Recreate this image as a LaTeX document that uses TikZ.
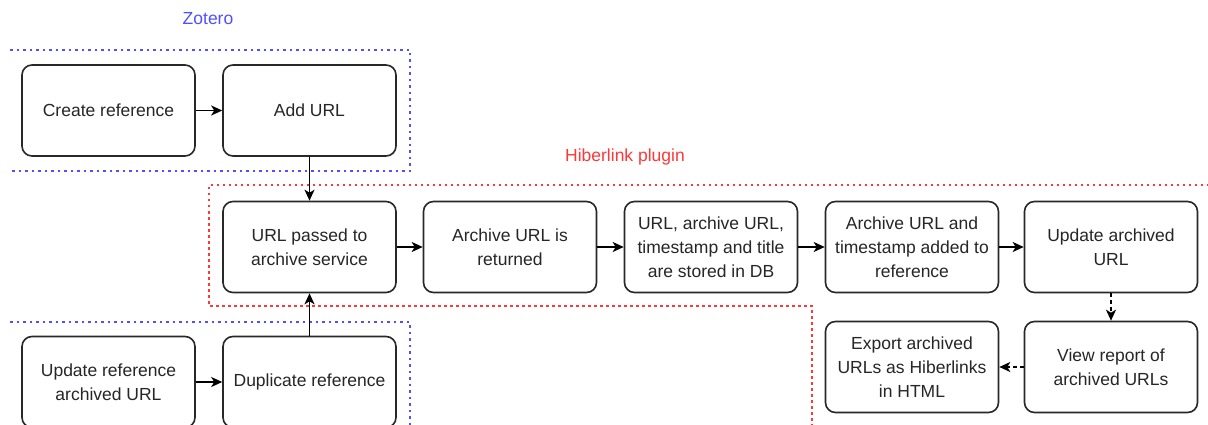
\documentclass[tikz,border=0pt]{standalone}
\usepackage{fontspec}
\setmainfont{Liberation Sans}
\usetikzlibrary{arrows.meta}
\definecolor{zblue}{RGB}{80,80,255}
\definecolor{hred}{RGB}{255,55,55}
\definecolor{edge}{RGB}{40,40,40}
\begin{document}
\begin{tikzpicture}[x=1pt,y=-1pt,
  every node/.style={font=\fontsize{17.5}{24}\selectfont, text=black!85},
  stepbox/.style={draw=edge, line width=1.6pt, rounded corners=10pt, fill=white,
    minimum width=173pt, minimum height=91pt, align=center, inner sep=0pt},
  flow/.style={draw=black, line width=1.8pt, -{Stealth[length=11pt,width=10pt,inset=3pt]}},
  dflow/.style={flow, dash pattern=on 4pt off 3pt},
  zframe/.style={draw=zblue, line width=1.8pt, dash pattern=on 2.5pt off 4pt},
  hframe/.style={draw=hred, line width=1.8pt, dash pattern=on 2.5pt off 3.5pt},
  grp/.style={font=\fontsize{17.5}{20}\selectfont}]
\useasboundingbox (0,0) rectangle (1208,425);
\clip (0,0) rectangle (1208,425);

% group frames
\draw[zframe] (10,50) -- (410,50) -- (410,171) -- (10,171);
\draw[zframe] (10,322) -- (410,322) -- (410,430);
\draw[hframe] (1215,185) -- (209,185) -- (209,306) -- (812,306) -- (812,430);
\node[grp, text=zblue] (zlabel) at (208,19) {Zotero};
\node[grp, text=hred] (hlabel) at (625,157) {Hiberlink plugin};

% Zotero steps
\node[stepbox] (create) at (108.5,110.5) {Create reference};
\node[stepbox] (addurl) at (309.5,110.5) {Add URL};
\node[stepbox] (updref) at (108.5,382) {Update reference\\archived URL};
\node[stepbox] (dup)    at (309.5,382) {Duplicate reference};

% Hiberlink steps
\node[stepbox] (pass)   at (309.5,247) {URL passed to\\archive service};
\node[stepbox] (ret)    at (510,247)   {Archive URL is\\returned};
\node[stepbox] (store)  at (711,247)   {URL, archive URL,\\timestamp and title\\are stored in DB};
\node[stepbox] (added)  at (912,247)   {Archive URL and\\timestamp added to\\reference};
\node[stepbox] (upd)    at (1111,247)  {Update archived\\URL};
\node[stepbox] (view)   at (1111,367)  {View report of\\archived URLs};
\node[stepbox] (export) at (912,367)   {Export archived\\URLs as Hiberlinks\\in HTML};

% connectors
\draw[flow] (create) -- (addurl);
\draw[flow] (addurl) -- (pass);
\draw[flow] (updref) -- (dup);
\draw[flow] (dup) -- (pass);
\draw[flow] (pass) -- (ret);
\draw[flow] (ret) -- (store);
\draw[flow] (store) -- (added);
\draw[flow] (added) -- (upd);
\draw[dflow] (upd) -- (view);
\draw[dflow] (view) -- (export);
\end{tikzpicture}
\end{document}
